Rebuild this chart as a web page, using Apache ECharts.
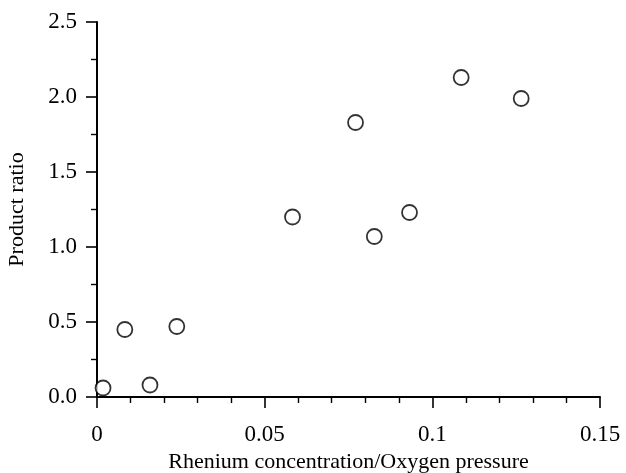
<!DOCTYPE html>
<html>
<head>
<meta charset="utf-8">
<script src="https://cdn.jsdelivr.net/npm/echarts@6/dist/echarts.min.js"></script>
<style>
  html, body { margin: 0; padding: 0; background: #fff; }
  #main { width: 626px; height: 473px; }
</style>
</head>
<body>
<div id="main"></div>
<script>
    // ratio vs concentration/pressure
    var ratioX = [0.0018, 0.0083, 0.0158, 0.0238, 0.0583, 0.0771, 0.0827, 0.0932, 0.1086, 0.1265];
    var productRatio = [0.06, 0.45, 0.08, 0.47, 1.20, 1.83, 1.07, 1.23, 2.13, 1.99];

    var points = [];
    for (var i = 0; i < ratioX.length; i++) {
        points.push([ratioX[i], productRatio[i]]);
    }

    var font = '"Liberation Serif", "DejaVu Serif", serif';
    var myChart = echarts.init(document.getElementById('main'));

    var option = {
        animation: false,
        backgroundColor: '#fff',
        grid: {
            left: 97,
            right: 26,
            top: 22,
            bottom: 76,
            containLabel: false,
            outerBoundsMode: 'none'
        },
        xAxis: {
            type: 'value',
            min: 0,
            max: 0.15,
            interval: 0.05,
            name: 'Rhenium concentration/Oxygen pressure',
            nameLocation: 'middle',
            nameGap: 54,
            nameTextStyle: { fontFamily: font, fontSize: 22, color: '#000' },
            splitLine: { show: false },
            axisLine: { onZero: false, lineStyle: { color: '#000', width: 2 } },
            axisTick: { inside: false, length: 11, lineStyle: { color: '#000', width: 1.6 } },
            minorTick: { show: true, splitNumber: 5, length: 6, lineStyle: { color: '#000', width: 1.4 } },
            axisLabel: {
                margin: 26,
                fontFamily: font,
                fontSize: 23,
                color: '#000'
            }
        },
        yAxis: {
            type: 'value',
            min: 0,
            max: 2.5,
            interval: 0.5,
            name: 'Product ratio',
            nameLocation: 'middle',
            nameGap: 69,
            nameTextStyle: { fontFamily: font, fontSize: 22, color: '#000' },
            splitLine: { show: false },
            axisLine: { onZero: false, lineStyle: { color: '#000', width: 2 } },
            axisTick: { inside: false, length: 11, lineStyle: { color: '#000', width: 1.6 } },
            minorTick: { show: true, splitNumber: 2, length: 6, lineStyle: { color: '#000', width: 1.4 } },
            axisLabel: {
                margin: 20,
                fontFamily: font,
                fontSize: 23,
                color: '#000',
                formatter: function (v) { return v.toFixed(1); }
            }
        },
        series: [
            {
                type: 'scatter',
                symbol: 'circle',
                symbolSize: 15,
                itemStyle: {
                    color: '#fff',
                    borderColor: '#000',
                    borderWidth: 1.8
                },
                data: points
            }
        ]
    };
    myChart.setOption(option);
</script>
</body>
</html>
